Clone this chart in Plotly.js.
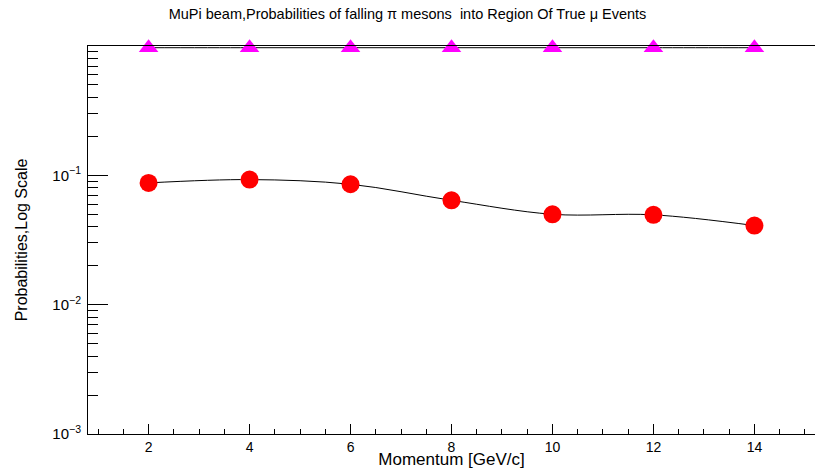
<!DOCTYPE html>
<html>
<head>
<meta charset="utf-8">
<script src="https://cdn.plot.ly/plotly-3.0.1.min.js"></script>
<style>
  html, body { margin: 0; padding: 0; background: #fff; }
  #chart { width: 815px; height: 469px; }
</style>
</head>
<body>
<div id="chart"></div>
<script>
// Beam momentum points [GeV/c]
const momentum = [2, 4, 6, 8, 10, 12, 14];
// Probability that a pi meson falls into the true-mu region
const probPi = [0.0874, 0.0927, 0.0853, 0.0641, 0.0500, 0.0495, 0.0409];
// Reference series near unity
const probMu = [0.97, 0.97, 0.97, 0.97, 0.97, 0.97, 0.97];

// Axis tick definitions
const yTickVals = [0.001, 0.01, 0.1];
const yTickText = ['10<sup>\u22123</sup>', '10<sup>\u22122</sup>', '10<sup>\u22121</sup>'];
const xTickVals = [2, 4, 6, 8, 10, 12, 14];

function minorLogTicks() {
  const out = [];
  [0.001, 0.01, 0.1].forEach(d => { for (let k = 2; k <= 9; k++) out.push(+(d * k).toPrecision(3)); });
  return out;
}
function minorLinTicks() {
  const out = [];
  for (let v = 1; v <= 15; v += 0.5) if (v % 2 !== 0) out.push(v);
  return out;
}

const font = 'Liberation Sans, Arial, Helvetica, sans-serif';

const traces = [
  {
    x: momentum, y: probMu, type: 'scatter', mode: 'lines+markers',
    line: { color: '#000', width: 1, shape: 'spline' },
    marker: { symbol: 'triangle-up', size: 17, color: '#ff00ff' },
    cliponaxis: false, hoverinfo: 'x+y'
  },
  {
    x: momentum, y: probPi, type: 'scatter', mode: 'lines+markers',
    line: { color: '#000', width: 1, shape: 'spline', smoothing: 1 },
    marker: { symbol: 'circle', size: 18, color: '#ff0000' },
    hoverinfo: 'x+y'
  }
];

const layout = {
  width: 815, height: 469,
  margin: { l: 88, r: 0, t: 46, b: 35 },
  paper_bgcolor: '#fff', plot_bgcolor: '#fff',
  showlegend: false,
  font: { family: font, color: '#000', size: 15 },
  title: {
    text: 'MuPi beam,Probabilities of falling \u03c0 mesons  into Region Of True \u03bc Events',
    font: { family: font, size: 14.5, color: '#000' },
    x: 0.5, xanchor: 'center', y: 0.97, yanchor: 'middle'
  },
  xaxis: {
    range: [0.8, 15.2],
    tickmode: 'array', tickvals: xTickVals,
    ticks: 'inside', ticklen: 10, tickwidth: 1, tickcolor: '#000',
    minor: { tickmode: 'array', tickvals: minorLinTicks(), ticks: 'inside', ticklen: 5, tickwidth: 1, tickcolor: '#000' },
    showline: true, linecolor: '#000', linewidth: 1, mirror: true,
    showgrid: false, zeroline: false,
    tickfont: { family: font, size: 14 },
    title: { text: 'Momentum [GeV/c]', font: { family: font, size: 17 }, standoff: 3 }
  },
  yaxis: {
    type: 'log', range: [-3, 0],
    tickmode: 'array', tickvals: yTickVals, ticktext: yTickText,
    ticks: 'inside', ticklen: 20, tickwidth: 1, tickcolor: '#000',
    minor: { tickmode: 'array', tickvals: minorLogTicks(), ticks: 'inside', ticklen: 10, tickwidth: 1, tickcolor: '#000' },
    showline: true, linecolor: '#000', linewidth: 1, mirror: true,
    showgrid: false, zeroline: false,
    ticklabelstandoff: 3,
    tickfont: { family: font, size: 15 },
    title: { text: 'Probabilities,Log Scale', font: { family: font, size: 16 }, standoff: 20 }
  }
};

Plotly.newPlot('chart', traces, layout, { displayModeBar: false, staticPlot: true });
</script>
</body>
</html>
